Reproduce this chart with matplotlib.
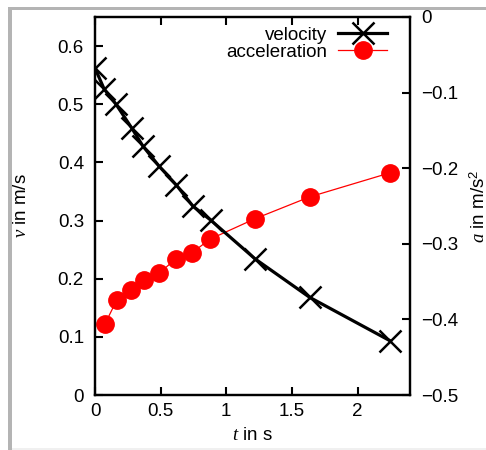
import numpy as np
import matplotlib
matplotlib.use("Agg")
import matplotlib.pyplot as plt
from matplotlib.patches import Rectangle
from matplotlib.ticker import FuncFormatter, MultipleLocator

plt.rcParams['font.family'] = ['Liberation Sans', 'DejaVu Sans']
plt.rcParams['mathtext.fontset'] = 'custom'
plt.rcParams['mathtext.it'] = 'Liberation Serif:italic'
plt.rcParams['mathtext.rm'] = 'Liberation Sans'

## data
t_vel = [0.0, 0.07, 0.16, 0.28, 0.365, 0.49, 0.62, 0.745, 0.88, 1.22, 1.635, 2.25]
vel = [0.562, 0.526, 0.500, 0.459, 0.428, 0.393, 0.361, 0.325, 0.301, 0.234, 0.168, 0.093]
t_acc = [0.076, 0.167, 0.274, 0.373, 0.487, 0.616, 0.738, 0.875, 1.217, 1.635, 2.25]
acc = [-0.406, -0.374, -0.361, -0.348, -0.339, -0.320, -0.312, -0.294, -0.267, -0.238, -0.206]

fs = 13.5
fig = plt.figure(figsize=(4.86, 4.5), dpi=100)
W, H = 486, 450

# screenshot frame
fig.add_artist(Rectangle((8/W, 1-10/H), 1, 3/H, transform=fig.transFigure, color="#b4b4b4", lw=0))
fig.add_artist(Rectangle((8/W, 0), 4/W, 1-7/H, transform=fig.transFigure, color="#b4b4b4", lw=0))
fig.add_artist(Rectangle((12/W, 0), 1, 2.5/H, transform=fig.transFigure, color="#f0f0f0", lw=0))

ax = fig.add_axes([95/W, 1-395/H, (410-95)/W, (395-17)/H])
ax2 = ax.twinx()

ax.plot(t_vel, vel, color="black", lw=2.3, marker="x", ms=16, mew=1.8, label="velocity", zorder=3)
ax2.plot(t_acc, acc, color="red", lw=0.9, marker="o", ms=12.5, label="acceleration", zorder=2)

ax.set_xlim(0, 2.4)
ax.set_ylim(0, 0.65)
ax2.set_ylim(-0.5, 0)
ax.xaxis.set_major_locator(MultipleLocator(0.5))
ax.yaxis.set_major_locator(MultipleLocator(0.1))
ax2.yaxis.set_major_locator(MultipleLocator(0.1))

fmt = FuncFormatter(lambda x, p: ("%g" % round(x, 3)).replace("-", "\u2212"))
ax.xaxis.set_major_formatter(fmt)
ax.yaxis.set_major_formatter(fmt)
ax2.yaxis.set_major_formatter(fmt)

ax.tick_params(axis="x", direction="in", top=True, length=6, width=1.5, labelsize=fs, pad=6)
ax.tick_params(axis="y", direction="in", right=False, length=6, width=1.5, labelsize=fs, pad=8)
ax2.tick_params(axis="y", direction="in", length=6, width=1.5, labelsize=fs, pad=8)
for a in (ax, ax2):
    for s in a.spines.values():
        s.set_linewidth(1.6)
ax.set_zorder(ax2.get_zorder() + 1)
ax.patch.set_visible(False)

ax.set_xlabel("$t$ in s", fontsize=fs, labelpad=5)
ax.set_ylabel("$v$ in m/s", fontsize=fs, labelpad=20)
ax2.set_ylabel("$a$ in m/s$^2$", fontsize=fs, labelpad=8)

h1, l1 = ax.get_legend_handles_labels()
h2, l2 = ax2.get_legend_handles_labels()
ax.legend(h1 + h2, l1 + l2, loc="upper right", bbox_to_anchor=(0.927, 0.975),
          frameon=False, markerfirst=False, fontsize=fs, handlelength=2.6,
          handletextpad=0.6, labelspacing=0.0, borderpad=0, borderaxespad=0)

fig.savefig("out.png", dpi=100)
